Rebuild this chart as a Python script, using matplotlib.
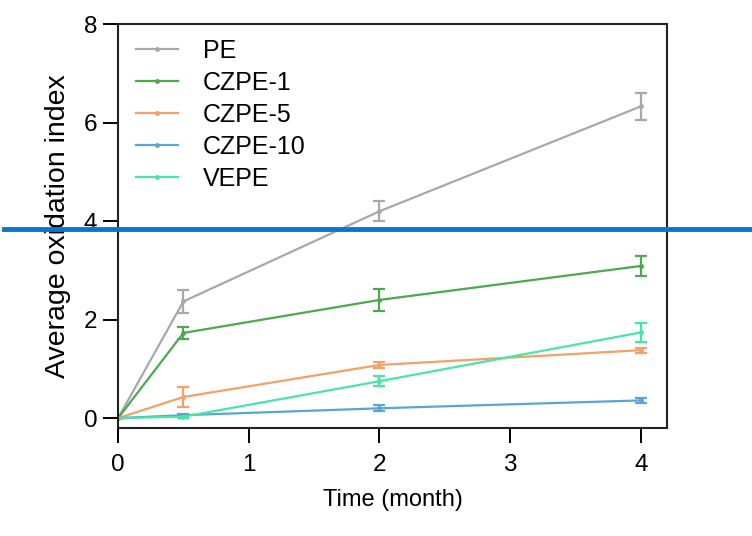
import matplotlib
matplotlib.use("Agg")
import matplotlib.pyplot as plt
from matplotlib.lines import Line2D

plt.rcParams['font.family'] = ['Liberation Sans', 'DejaVu Sans']

time = [0, 0.5, 2, 4]
series_names = ["PE", "CZPE-1", "CZPE-5", "CZPE-10", "VEPE"]
pe = [0, 2.37, 4.2, 6.33]
pe_err = [0, 0.24, 0.2, 0.27]
czpe1 = [0, 1.73, 2.40, 3.09]
czpe1_err = [0, 0.12, 0.22, 0.21]
czpe5 = [0, 0.43, 1.08, 1.38]
czpe5_err = [0, 0.2, 0.06, 0.05]
czpe10 = [0, 0.06, 0.2, 0.36]
czpe10_err = [0, 0.02, 0.06, 0.05]
vepe = [0, 0.03, 0.75, 1.74]
vepe_err = [0, 0.02, 0.1, 0.2]
colors = ["#a8a8a8", "#4ea84e", "#f4a066", "#58a6d4", "#48e6a6"]

values = [pe, czpe1, czpe5, czpe10, vepe]
errors = [pe_err, czpe1_err, czpe5_err, czpe10_err, vepe_err]

fig = plt.figure(figsize=(7.52, 5.36), dpi=100)
ax = fig.add_axes([0.157, 0.2015, 0.73, 0.7535])

for name, v, e, c in zip(series_names, values, errors, colors):
    ax.errorbar(time, v, yerr=e, color=c, lw=1.6, marker='o', markersize=2.5,
                capsize=4, capthick=1.6, elinewidth=1.6, label=name)

ax.set_xlim(0, 4.2)
ax.set_ylim(-0.2, 8)
ax.set_xticks([0, 1, 2, 3, 4])
ax.set_yticks([0, 2, 4, 6, 8])
ax.tick_params(direction='out', length=11, width=1.4, labelsize=17.5, pad=4)
ax.tick_params(axis='x', pad=8)
for s in ax.spines.values():
    s.set_linewidth(1.5)
    s.set_color('#222222')
ax.set_xlabel("Time (month)", fontsize=17, labelpad=9)
ax.set_ylabel("Average oxidation index", fontsize=20.5, labelpad=9)

handles = [Line2D([0], [0], color=c, lw=1.6, marker='o', markersize=2.5) for c in colors]
ax.legend(handles, series_names, loc='upper left', frameon=False, fontsize=18,
          handlelength=1.7, handletextpad=1.0, labelspacing=0.32,
          bbox_to_anchor=(-0.009, 1.02))

# full-width blue horizontal line
fig.add_artist(Line2D([4/752, 1.0], [1 - 229/536, 1 - 229/536],
                      transform=fig.transFigure, color="#0a74d2", lw=3.5))

fig.savefig("out.png", dpi=100)
